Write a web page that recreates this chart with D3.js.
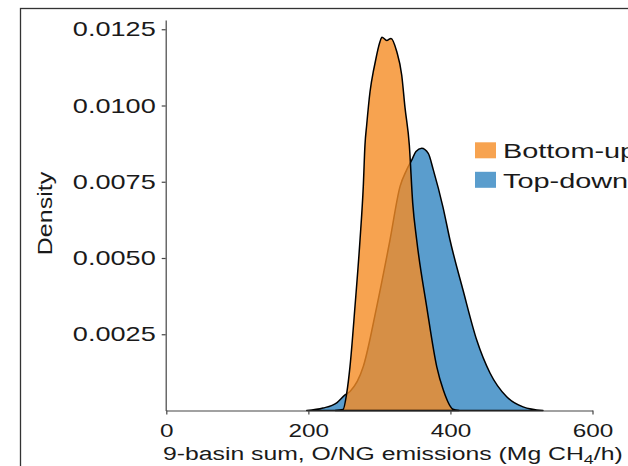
<!DOCTYPE html>
<html>
<head>
<meta charset="utf-8">
<script src="https://cdn.jsdelivr.net/npm/d3@7"></script>
<style>
  html, body { margin: 0; padding: 0; background: #fff; }
  svg { display: block; }
</style>
</head>
<body>
<svg id="chart" width="628" height="466"></svg>
<script>
// density curves (emissions, density)
const bottomUpX       = [238, 248.8, 254.0, 258.6, 265.6, 272.7, 277.3, 279.7, 282.1, 286.8, 291.4, 292.8, 300.8, 303.6, 310.3, 316.3, 324.4, 331.4, 336.1, 342.1, 346.9, 352.5, 366.6, 380.7, 390.0, 403.6, 412];
const bottomUpDensity = [0, 0.00003, 0.00057, 0.00144, 0.0034, 0.00559, 0.00734, 0.00871, 0.00936, 0.01045, 0.01111, 0.01127, 0.01209, 0.01224, 0.01213, 0.0122, 0.01177, 0.011, 0.00992, 0.00871, 0.0068, 0.00559, 0.0034, 0.00144, 0.00067, 0.00004, 0];

const topDownX        = [197.7, 220.6, 239.9, 251.6, 258.6, 277.3, 296.2, 314.9, 329.0, 338.4, 345.5, 351.5, 359.5, 368.8, 375.9, 389.5, 399.4, 417.7, 437.0, 455.7, 479.2, 502.2, 530.3];
const topDownDensity  = [0, 0.00008, 0.00025, 0.00051, 0.00062, 0.00144, 0.0034, 0.00559, 0.00734, 0.00789, 0.00821, 0.00849, 0.0086, 0.00843, 0.00789, 0.00667, 0.00559, 0.00395, 0.00231, 0.00123, 0.00045, 0.00012, 0];

const xTicks = [0, 200, 400, 600];
const yTicks = [0.0025, 0.0050, 0.0075, 0.0100, 0.0125];
const seriesNames = ['Bottom-up', 'Top-down'];

const colors = { 'Bottom-up': '#f58c24', 'Top-down': '#3184c0' };
const font = "'Liberation Sans', Arial, sans-serif";

const svg = d3.select('#chart');

// text in the picture is drawn wide, stretch it out
function stretch(sel, k) {
	sel.each(function() {
		const len = this.getComputedTextLength();
		d3.select(this).attr('textLength', len * k).attr('lengthAdjust', 'spacingAndGlyphs');
	});
}

// frame
svg.append('rect')
	.attr('x', 20.5).attr('y', 8.5)
	.attr('width', 640).attr('height', 480)
	.attr('fill', 'none')
	.attr('stroke', '#333')
	.attr('stroke-width', 1.3);

const x = d3.scaleLinear().domain([0, 600]).range([166.3, 592.5]);
const y = d3.scaleLinear().domain([0, 0.0128]).range([410.5, 20.1]);

const area = d3.area()
	.x(d => x(d[0]))
	.y0(y(0))
	.y1(d => y(d[1]))
	.curve(d3.curveMonotoneX);

const series = [
	{ name: 'Top-down', pts: d3.zip(topDownX, topDownDensity) },
	{ name: 'Bottom-up', pts: d3.zip(bottomUpX, bottomUpDensity) }
];

svg.append('g')
	.selectAll('path')
	.data(series)
	.join('path')
		.attr('d', d => area(d.pts))
		.attr('fill', d => colors[d.name])
		.attr('fill-opacity', 0.8)
		.attr('stroke', '#000')
		.attr('stroke-width', 1.5)
		.attr('stroke-linejoin', 'round');

// axes
const yAxis = svg.append('g')
	.attr('transform', 'translate(165.7,0)')
	.call(d3.axisLeft(y).tickValues(yTicks).tickFormat(d3.format('.4f')).tickSize(4).tickPadding(6).tickSizeOuter(0));

const xAxis = svg.append('g')
	.attr('transform', 'translate(0,410.5)')
	.call(d3.axisBottom(x).tickValues(xTicks).tickFormat(d3.format('d')).tickSize(4).tickPadding(10).tickSizeOuter(0));

[yAxis, xAxis].forEach(g => {
	g.selectAll('.domain').attr('stroke', '#444').attr('stroke-width', 1.2);
	g.selectAll('.tick line').attr('stroke', '#444').attr('stroke-width', 1.2);
	g.selectAll('text').attr('fill', '#1a1a1a').style('font-family', font);
});
yAxis.selectAll('text').style('font-size', '21px').call(stretch, 1.29);
xAxis.selectAll('text').style('font-size', '18px').call(stretch, 1.35);

// axis titles
const xTitle = svg.append('text')
	.attr('x', 163).attr('y', 460)
	.attr('fill', '#1a1a1a')
	.style('font-family', font)
	.style('font-size', '18px');
xTitle.append('tspan').text('9-basin sum, O/NG emissions (Mg CH');
xTitle.append('tspan').attr('dy', 4).style('font-size', '13px').text('4');
xTitle.append('tspan').attr('dy', -4).text('/h)');
xTitle.call(stretch, 1.375);

svg.append('text')
	.attr('transform', 'translate(52,213.5) rotate(-90)')
	.attr('text-anchor', 'middle')
	.attr('fill', '#1a1a1a')
	.style('font-family', font)
	.style('font-size', '20px')
	.text('Density')
	.call(stretch, 1.25);

// legend
const legend = svg.append('g')
	.selectAll('g')
	.data(seriesNames)
	.join('g')
		.attr('transform', (d, i) => 'translate(475,' + (142.3 + i * 29.5) + ')');

legend.append('rect')
	.attr('width', 21).attr('height', 16)
	.attr('fill', d => colors[d])
	.attr('fill-opacity', 0.8);

legend.append('text')
	.attr('x', 28).attr('y', 16)
	.attr('fill', '#1a1a1a')
	.style('font-family', font)
	.style('font-size', '19.5px')
	.text(d => d)
	.call(stretch, 1.48);
</script>
</body>
</html>
